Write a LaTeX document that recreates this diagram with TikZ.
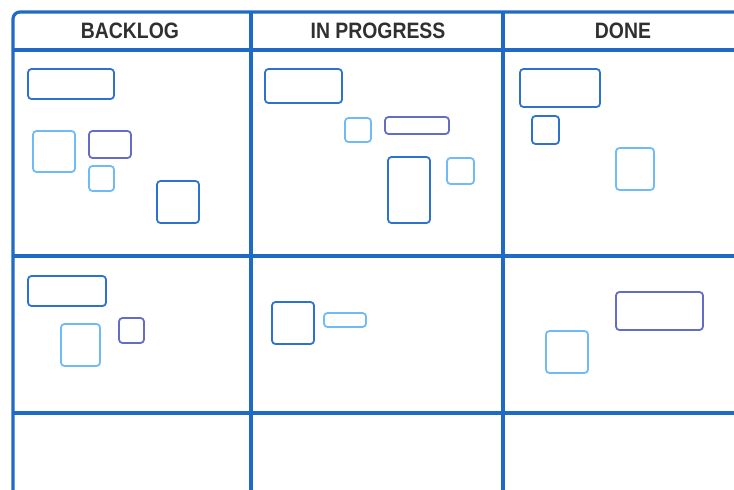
\documentclass[tikz,border=0pt]{standalone}
\usepackage{fontspec}
\newfontfamily\headfont{Liberation Sans}[FakeStretch=0.87]
\definecolor{boardblue}{RGB}{30,106,196}
\definecolor{carddark}{RGB}{45,115,205}
\definecolor{cardlight}{RGB}{112,186,246}
\definecolor{cardpurple}{RGB}{100,108,196}
\definecolor{headgray}{RGB}{48,48,48}
\tikzset{
  board/.style={draw=boardblue, line width=3.2pt},
  head/.style={text=headgray, font=\headfont\bfseries\fontsize{22.3}{26}\selectfont},
  card/.style={rounded corners=3.5pt, line width=1.8pt, inner sep=0pt, fill=white}
}
\begin{document}
\begin{tikzpicture}[x=1pt, y=-1pt]
\useasboundingbox (0,0) rectangle (734,490);
\clip (0,0) rectangle (734,490);
% board frame and grid
\draw[board, rounded corners=7pt] (13,500) -- (13,12) -- (740,12);
\foreach \y in {50, 256, 413}
    {\draw[board] (13,\y) -- (740,\y);};
\foreach \x in {251, 503}
    {\draw[board] (\x,12) -- (\x,500);};
% column titles
\node[head] (backlog) at (130,31) {BACKLOG};
\node[head] (progress) at (378,31) {IN PROGRESS};
\node[head] (done) at (623,31) {DONE};
% cards
\foreach \n/\c/\x/\y/\w/\h in {
    b1/carddark/71/84/86/30, b2/cardlight/54/151.5/42/41,
    b3/cardpurple/110/144.5/42/27, b4/cardlight/101.5/178.5/25/25,
    b5/carddark/178/202/42/42,
    p1/carddark/303.5/86/77/34, p2/cardlight/358/130/26/24,
    p3/cardpurple/417/125.5/64/17, p4/carddark/409/190/42/66,
    p5/cardlight/460.5/171/27/26,
    d1/carddark/560/88/80/38, d2/carddark/545.5/130/27/28,
    d3/cardlight/635/169/38/42,
    b6/carddark/67/291/78/30, b7/cardlight/80.5/345/39/42,
    b8/cardpurple/131.5/330.5/25/25,
    p6/carddark/293/323/42/42, p7/cardlight/345/320/42/14,
    d4/cardpurple/659.5/311/87/38, d5/cardlight/567/352/42/42}
    {\node[card, draw=\c, minimum width=\w pt, minimum height=\h pt] (\n) at (\x,\y) {};};
\end{tikzpicture}
\end{document}
